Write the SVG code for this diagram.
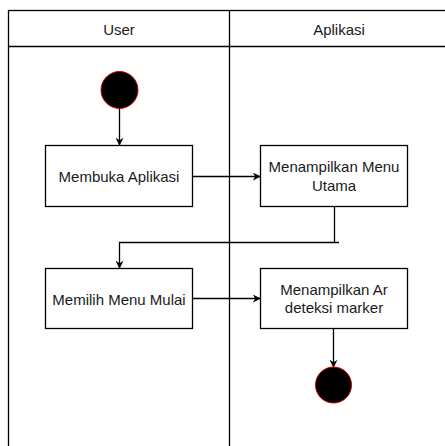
<svg xmlns="http://www.w3.org/2000/svg" width="445" height="446" viewBox="0 0 445 446">
<defs>
<style>
.lane{fill:none;stroke:#000;stroke-width:1.3}
.box{fill:#fff;stroke:#000;stroke-width:1.3}
.txt{font-family:"Liberation Sans",Arial,sans-serif;font-size:15px;fill:#1a1a1a;text-anchor:middle}
.ini{fill:#000;stroke:#cc0000;stroke-width:1}
.con{fill:none;stroke:#000;stroke-width:1.3}
</style>
<marker id="arr" viewBox="0 0 10 10" refX="9" refY="5" markerWidth="8" markerHeight="8" markerUnits="userSpaceOnUse" orient="auto">
<path d="M0,0 L10,5 L0,10 L3,5 Z" fill="#000"/>
</marker>
</defs>
<rect width="445" height="446" fill="#fff"/>
<g id="lanes">
<rect class="lane" x="8.5" y="10.5" width="450" height="450"/>
<line class="lane" x1="8.5" y1="46.5" x2="450" y2="46.5"/>
<line class="lane" x1="229.5" y1="10.5" x2="229.5" y2="450"/>
<text class="txt" x="119" y="35">User</text>
<text class="txt" x="339" y="35">Aplikasi</text>
</g>
<g id="connectors">
<line class="con" x1="119.5" y1="108" x2="119.5" y2="145" marker-end="url(#arr)"/>
<line class="con" x1="193" y1="176.5" x2="260" y2="176.5" marker-end="url(#arr)"/>
<polyline class="con" points="334.5,207 334.5,242.5 339,242.5 119.5,242.5 119.5,268" marker-end="url(#arr)"/>
<line class="con" x1="193" y1="298.5" x2="260" y2="298.5" marker-end="url(#arr)"/>
<line class="con" x1="333.5" y1="329" x2="333.5" y2="367" marker-end="url(#arr)"/>
</g>
<g id="start"><circle class="ini" cx="119.5" cy="90" r="18.5"/></g>
<g id="membuka"><rect class="box" x="45.5" y="145.5" width="147" height="61"/><text class="txt" x="119" y="182">Membuka Aplikasi</text></g>
<g id="menu-utama"><rect class="box" x="260.5" y="145.5" width="147" height="61"/><text class="txt" x="334" y="172">Menampilkan Menu</text><text class="txt" x="334" y="190.5">Utama</text></g>
<g id="memilih"><rect class="box" x="45.5" y="268.5" width="147" height="60"/><text class="txt" x="119" y="305">Memilih Menu Mulai</text></g>
<g id="ar"><rect class="box" x="260.5" y="268.5" width="147" height="60"/><text class="txt" x="334" y="295">Menampilkan Ar</text><text class="txt" x="334" y="313">deteksi marker</text></g>
<g id="end"><circle class="ini" cx="333.5" cy="385" r="18"/></g>
</svg>
